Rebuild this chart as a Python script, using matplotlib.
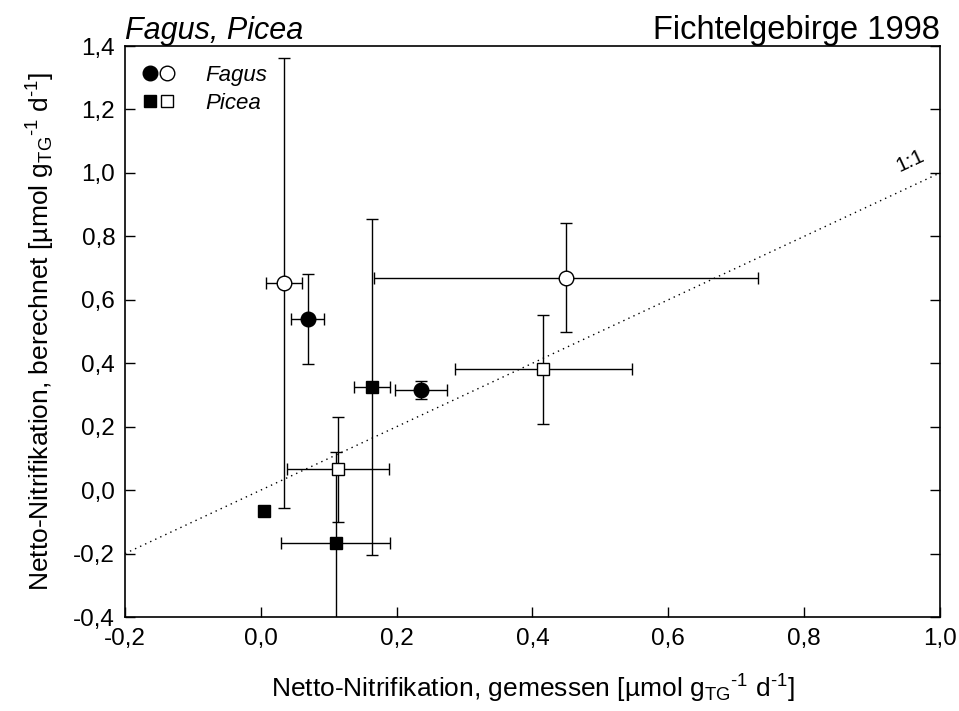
import matplotlib
matplotlib.use("Agg")
import matplotlib.pyplot as plt
from matplotlib.legend_handler import HandlerTuple
from matplotlib.lines import Line2D
from matplotlib.ticker import FixedLocator, FuncFormatter

plt.rcParams['font.family'] = ['Liberation Sans', 'DejaVu Sans']
plt.rcParams['mathtext.fontset'] = 'custom'
plt.rcParams['mathtext.rm'] = 'Liberation Sans'
plt.rcParams['mathtext.it'] = 'Liberation Sans:italic'

# Fagus filled circles
fagus_f_x = [0.069, 0.236]
fagus_f_y = [0.539, 0.315]
fagus_f_xerr = [0.0245, 0.0385]
fagus_f_yerr = [0.141, 0.029]
# Fagus open circles
fagus_o_x = [0.034, 0.449]
fagus_o_y = [0.653, 0.670]
fagus_o_xerr = [0.0265, 0.283]
fagus_o_yerr = [0.71, 0.172]
# Picea filled squares
picea_f_x = [0.163, 0.110, 0.004]
picea_f_y = [0.325, -0.168, -0.066]
picea_f_xerr = [0.0265, 0.080, 0.0]
picea_f_yerr = [0.53, 0.289, 0.0]
# Picea open squares
picea_o_x = [0.416, 0.114]
picea_o_y = [0.381, 0.065]
picea_o_xerr = [0.130, 0.075]
picea_o_yerr = [0.172, 0.167]

xticks = [-0.2, 0.0, 0.2, 0.4, 0.6, 0.8, 1.0]
yticks = [-0.4, -0.2, 0.0, 0.2, 0.4, 0.6, 0.8, 1.0, 1.2, 1.4]
line11 = [-0.2, 1.0]

fig = plt.figure(figsize=(9.59, 7.11), dpi=100)
ax = fig.add_axes([0.1303, 0.1322, 0.8499, 0.8031])
ax.set_xlim(-0.2, 1.0)
ax.set_ylim(-0.4, 1.4)

ax.plot(line11, line11, color='black', lw=1.0, ls=(0, (1, 3)), zorder=1)

ekw = dict(ecolor='black', elinewidth=1.0, capsize=4, capthick=1.0, ls='none', zorder=2)
ax.errorbar(fagus_f_x, fagus_f_y, xerr=fagus_f_xerr, yerr=fagus_f_yerr,
            marker='o', ms=10.5, mfc='black', mec='black', mew=1.0, **ekw)
ax.errorbar(fagus_o_x, fagus_o_y, xerr=fagus_o_xerr, yerr=fagus_o_yerr,
            marker='o', ms=10.5, mfc='white', mec='black', mew=1.0, **ekw)
ax.errorbar(picea_f_x, picea_f_y, xerr=picea_f_xerr, yerr=picea_f_yerr,
            marker='s', ms=9.0, mfc='black', mec='black', mew=1.0, **ekw)
ax.errorbar(picea_o_x, picea_o_y, xerr=picea_o_xerr, yerr=picea_o_yerr,
            marker='s', ms=8.5, mfc='white', mec='black', mew=1.0, **ekw)

ax.text(0.962, 1.012, '1:1', rotation=25, fontsize=15, ha='center', va='bottom',
        rotation_mode='anchor')

fmt = FuncFormatter(lambda v, p: f"{v:.1f}".replace('.', ',').replace('-0,0', '0,0'))
ax.xaxis.set_major_locator(FixedLocator(xticks))
ax.yaxis.set_major_locator(FixedLocator(yticks))
ax.xaxis.set_major_formatter(fmt)
ax.yaxis.set_major_formatter(fmt)
ax.tick_params(direction='in', length=7, width=1.0, labelsize=17.5,
               right=True, top=False)
ax.tick_params(axis='x', pad=8)
ax.tick_params(axis='y', pad=7)
for s in ax.spines.values():
    s.set_linewidth(1.2)

sup = '$^{\\mathrm{\u2010}1}$'
xl = 'Netto-Nitrifikation, gemessen [µmol g$_{\\mathrm{TG}}$' + sup + ' d' + sup + ']'
yl = 'Netto-Nitrifikation, berechnet [µmol g$_{\\mathrm{TG}}$' + sup + ' d' + sup + ']'
ax.set_xlabel(xl, fontsize=19, labelpad=16)
ax.set_ylabel(yl, fontsize=19, labelpad=12)

ax.set_title('Fagus, Picea', loc='left', fontsize=22, style='italic', pad=3)
ax.set_title('Fichtelgebirge 1998', loc='right', fontsize=23.5, pad=3)

h1 = (Line2D([], [], marker='o', ls='none', ms=10.5, mfc='black', mec='black'),
      Line2D([], [], marker='o', ls='none', ms=10.5, mfc='white', mec='black'))
h2 = (Line2D([], [], marker='s', ls='none', ms=9, mfc='black', mec='black'),
      Line2D([], [], marker='s', ls='none', ms=9, mfc='white', mec='black'))
leg = ax.legend([h1, h2], ['Fagus', 'Picea'],
                handler_map={tuple: HandlerTuple(ndivide=None, pad=0.2)},
                loc='upper left', frameon=False,
                prop={'style': 'italic', 'size': 16},
                handlelength=1.35, handletextpad=1.4, labelspacing=0.3,
                borderaxespad=0.55, borderpad=0.3)

fig.savefig('out.png', dpi=100)
